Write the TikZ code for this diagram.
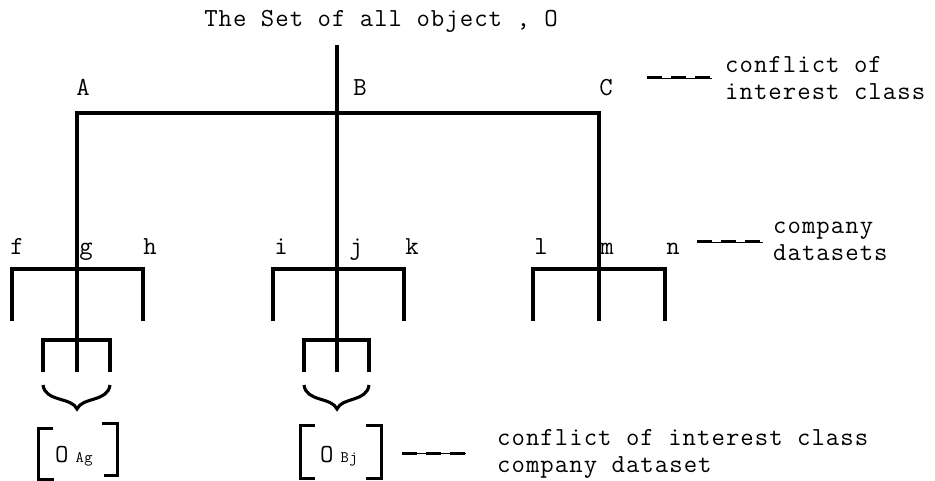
\documentclass[tikz,border=0pt]{standalone}
\usepackage{fontspec}
\setmainfont{Latin Modern Mono}[LetterSpace=4]
\begin{document}
\begin{tikzpicture}[x=1pt,y=-1pt,line join=miter,
  tree/.style={line width=3.1pt},
  brk/.style={line width=3pt},
  lbl/.style={font=\fontsize{26}{27}\selectfont, inner sep=0pt, anchor=base},
  legtext/.style={font=\fontsize{26}{27}\selectfont, inner sep=0pt, anchor=west, align=left},
  legdash/.style={line width=3pt, dash pattern=on 15pt off 9pt, preaction={draw, line width=0.7pt, solid}}]
\useasboundingbox (0,0) rectangle (935,481);

% labels
\node[lbl] (title) at (381,27) {The Set of all object , O};
\node[lbl] (A) at (83,96) {A};
\node[lbl] (B) at (360,96) {B};
\node[lbl] (C) at (606,96) {C};
\node[lbl] (f) at (17,255) {f};
\node[lbl] (g) at (86,255) {g};
\node[lbl] (h) at (150,255) {h};
\node[lbl] (i) at (281,255) {i};
\node[lbl] (j) at (356,255) {j};
\node[lbl] (k) at (412,255) {k};
\node[lbl] (l) at (541,255) {l};
\node[lbl] (m) at (607,255) {m};
\node[lbl] (n) at (673,255) {n};

% junction coordinates
\coordinate (top) at (337,45);
\coordinate (Aj) at (77,113);
\coordinate (Bj) at (337,113);
\coordinate (Cj) at (599,113);

% top level
\draw[tree] (77,372) -- (Aj) -- (Cj) -- (599,321);
\draw[tree] (top) -- (337,372);

% second level bars
\draw[tree] (12,321) -- (12,269) -- (143,269) -- (143,321);
\draw[tree] (273,321) -- (273,269) -- (404,269) -- (404,321);
\draw[tree] (533,321) -- (533,269) -- (665,269) -- (665,321);

% third level small brackets
\draw[tree] (43,372) -- (43,340) -- (110,340) -- (110,372);
\draw[tree] (304,372) -- (304,340) -- (369,340) -- (369,372);

% curly braces
\draw[tree] (43,385) .. controls (45,402) and (72,397) .. (77,409)
                     .. controls (82,397) and (108,402) .. (110,385);
\draw[tree] (304,385) .. controls (306,402) and (332,397) .. (337,409)
                      .. controls (342,397) and (367,402) .. (369,385);

% O_Ag
\node[lbl, anchor=base west] (oag) at (55,462) {O\hspace{7pt}{\fontsize{16}{16}\selectfont Ag}};
\draw[brk] (53,428) -- (38,428) -- (38,479) -- (54,479);
\draw[brk] (102,423) -- (117,423) -- (117,475) -- (104,475);

% O_Bj
\node[lbl, anchor=base west] (obj) at (320,462) {O\hspace{7pt}{\fontsize{16}{16}\selectfont Bj}};
\draw[brk] (315,425) -- (300,425) -- (300,478) -- (315,478);
\draw[brk] (366,425) -- (381,425) -- (381,478) -- (366,478);

% legends
\node[legtext] (leg1) at (725,78) {conflict of\\interest class};
\coordinate (d1a) at (647,78);
\coordinate (d1b) at (712,78);
\draw[legdash] (d1a) -- (d1b);

\node[legtext] (leg2) at (773,241) {company\\datasets};
\coordinate (d2a) at (697,242);
\coordinate (d2b) at (763,242);
\draw[legdash] (d2a) -- (d2b);

\node[legtext] (leg3) at (497,454) {conflict of interest class\\company dataset};
\coordinate (d3a) at (402,453);
\coordinate (d3b) at (466,453);
\draw[legdash] (d3a) -- (d3b);
\end{tikzpicture}
\end{document}
